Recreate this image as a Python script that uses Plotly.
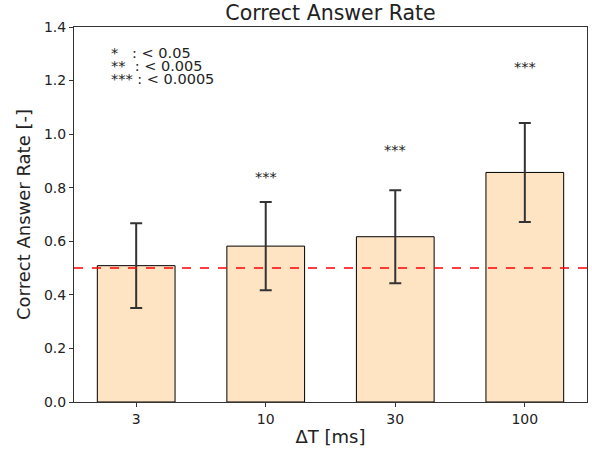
import plotly.graph_objects as go

# Data
categories = ["3", "10", "30", "100"]
rates = [0.509, 0.582, 0.617, 0.857]
errors = [0.158, 0.165, 0.174, 0.185]
sig_labels = ["", "***", "***", "***"]
sig_y = [None, 0.84, 0.94, 1.25]
chance_level = 0.5
legend_lines = ["*   : < 0.05", "**  : < 0.005", "*** : < 0.0005"]

x_idx = list(range(len(categories)))
font_family = "DejaVu Sans"
text_color = "#222222"

fig = go.Figure()

fig.add_trace(go.Bar(
    x=x_idx,
    y=rates,
    width=0.6,
    marker=dict(color="#FFE4C4", line=dict(color="black", width=1)),
    error_y=dict(type="data", array=errors, visible=True,
                 color="#333333", thickness=2, width=6),
    showlegend=False,
))

# Significance markers above bars
for xi, lab, yy in zip(x_idx, sig_labels, sig_y):
    if lab:
        fig.add_annotation(x=xi, y=yy, text=lab, showarrow=False,
                           font=dict(family=font_family, size=14.5, color=text_color),
                           xanchor="center", yanchor="middle")

# Chance level line
fig.add_shape(type="line", xref="paper", x0=0, x1=1, yref="y",
              y0=chance_level, y1=chance_level,
              line=dict(color="red", width=1.6, dash="dash"))

# Significance key, one line per annotation for tight spacing
for i, line in enumerate(legend_lines):
    fig.add_annotation(xref="paper", yref="paper", x=0.068, y=0.931 - i * 0.0347,
                       text=line.replace(" ", "&nbsp;"),
                       showarrow=False, align="left", xanchor="left", yanchor="middle",
                       font=dict(family=font_family, size=14.5, color=text_color))

fig.update_layout(
    width=592, height=451,
    margin=dict(l=74, r=5, t=27, b=49),
    paper_bgcolor="white", plot_bgcolor="white",
    font=dict(family=font_family, size=14, color=text_color),
    title=dict(text="Correct Answer Rate", xref="paper", x=0.5, xanchor="center",
               y=0.972, yanchor="middle",
               font=dict(family=font_family, size=20.5, color=text_color)),
    xaxis=dict(
        tickmode="array", tickvals=x_idx, ticktext=categories,
        range=[-0.48, 3.48],
        showline=True, linecolor="#333333", linewidth=1, mirror=True,
        ticks="outside", ticklen=4, tickcolor="#333333",
        showgrid=False, zeroline=False,
        tickfont=dict(size=14),
        title=dict(text="ΔT [ms]", font=dict(size=18), standoff=4),
    ),
    yaxis=dict(
        range=[0, 1.4], tickvals=[0, 0.2, 0.4, 0.6, 0.8, 1.0, 1.2, 1.4],
        tickformat=".1f",
        showline=True, linecolor="#333333", linewidth=1, mirror=True,
        ticks="outside", ticklen=4, tickcolor="#333333",
        showgrid=False, zeroline=False,
        tickfont=dict(size=14),
        title=dict(text="Correct Answer Rate [-]", font=dict(size=18), standoff=8),
    ),
)

fig.write_html("out.html")
